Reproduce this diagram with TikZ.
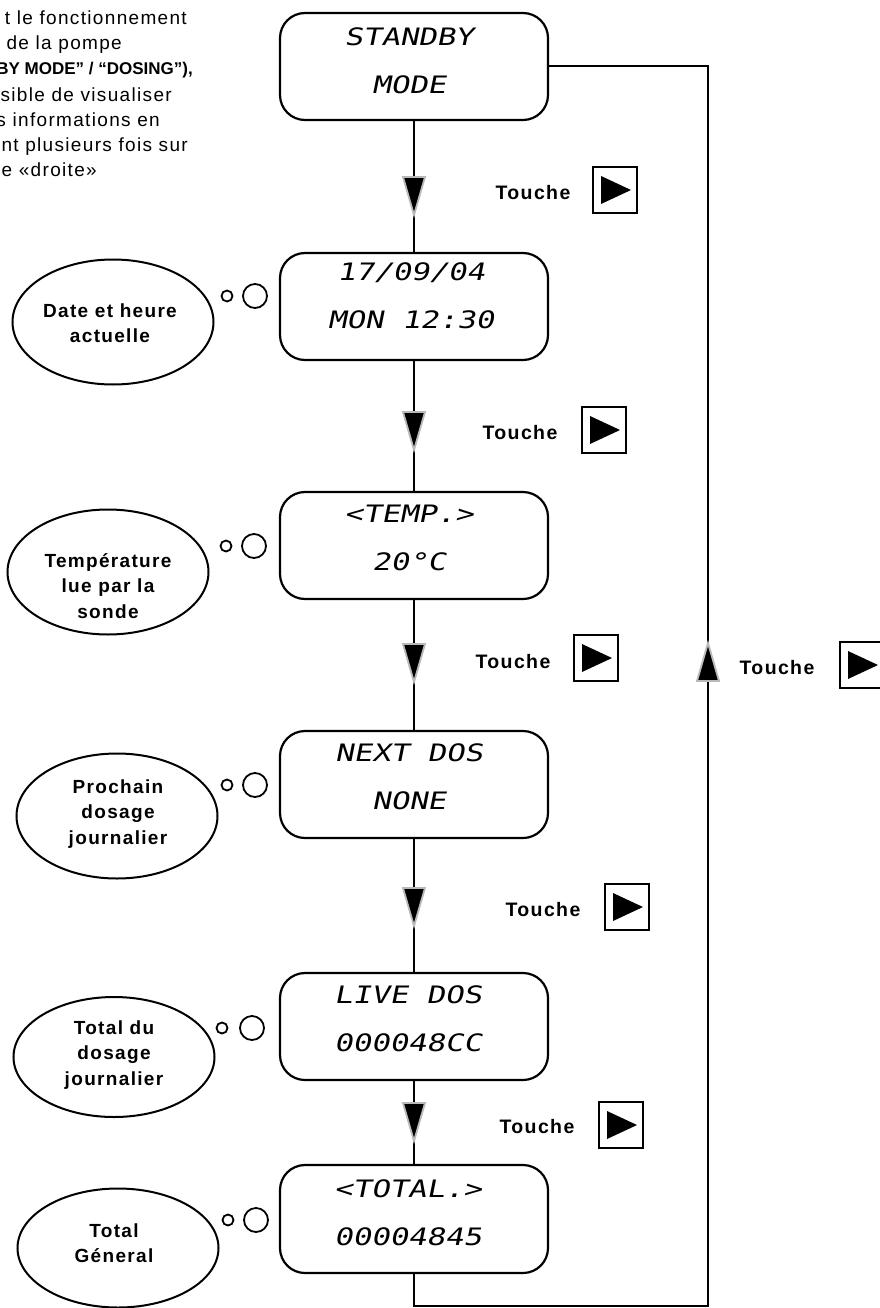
\documentclass[tikz,border=0pt]{standalone}
\usepackage{fontspec}
\setmainfont{Liberation Sans}
\newfontfamily\lcdfont{DejaVu Sans Mono}[FakeSlant=0.2,FakeStretch=1.28]
\newfontfamily\txtfont{Liberation Sans}[LetterSpace=7]
\usetikzlibrary{shapes.geometric}
\tikzset{
  lcdbox/.style={draw, line width=2.2pt, rounded corners=25pt, minimum width=268pt, minimum height=107pt, inner sep=0pt},
  lcd/.style={font=\lcdfont\fontsize{24}{48}\selectfont, align=center, inner sep=0pt},
  bubble/.style={draw, ellipse, line width=2pt, inner sep=0pt, minimum width=201pt, minimum height=125pt},
  bubbletext/.style={font=\txtfont\bfseries\fontsize{19}{25.5}\selectfont, align=center, inner sep=0pt},
  dotsmall/.style={circle, draw, line width=1.8pt, inner sep=0pt, minimum size=11pt},
  dotbig/.style={circle, draw, line width=1.8pt, inner sep=0pt, minimum size=24pt},
  touche/.style={font=\txtfont\bfseries\fontsize{19.5}{23}\selectfont, inner sep=0pt},
  keybox/.style={draw, line width=2.2pt, minimum width=44pt, minimum height=46pt, inner sep=0pt},
  flow/.style={line width=2pt},
  intro/.style={font=\txtfont\fontsize{19}{25}\selectfont, inner sep=0pt, anchor=base east},
  keypic/.pic={\node[keybox] (-box) {}; \fill (-14,-14) -- (-14,14) -- (16,0) -- cycle;},
  downarr/.pic={\draw[fill=black, draw=gray!55, line width=1.8pt, line join=miter] (-11,-19) -- (11,-19) -- (0,19) -- cycle;},
  uparr/.pic={\draw[fill=black, draw=gray!55, line width=1.8pt, line join=miter] (-11,19) -- (11,19) -- (0,-19) -- cycle;}
}
\begin{document}
\begin{tikzpicture}[x=1pt, y=-1pt]
\useasboundingbox (0,0) rectangle (880,1308);
\clip (0,0) rectangle (880,1308);

% intro text (cut at the left edge)
\node[intro] (l1) at (187,25) {t le fonctionnement};
\node[intro] (l2) at (122,50) {de la pompe};
\node[inner sep=0pt, anchor=base east, font=\bfseries\fontsize{17}{20}\selectfont] (l3) at (193,75) {BY MODE” / “DOSING”),};
\node[intro] (l4) at (172,102) {ssible de visualiser};
\node[intro] (l5) at (160,127) {s informations en};
\node[intro] (l6) at (188,152) {nt plusieurs fois sur};
\node[intro] (l7) at (97,177) {he «droite»};

% LCD boxes
\node[lcdbox] (b1) at (414,66.5) {};
\node[lcdbox] (b2) at (414,306.5) {};
\node[lcdbox] (b3) at (414,545.5) {};
\node[lcdbox] (b4) at (414,784.5) {};
\node[lcdbox] (b5) at (414,1026.5) {};
\node[lcdbox, minimum height=108pt] (b6) at (414,1219) {};

\node[lcd] (t1) at (409,60.5) {STANDBY\\MODE};
\node[lcd] (t2) at (411,296) {17/09/04\\MON 12:30};
\node[lcd] (t3) at (409,538) {<TEMP.>\\20°C};
\node[lcd] (t4) at (409,777) {NEXT DOS\\NONE};
\node[lcd] (t5) at (408,1019) {LIVE DOS\\000048CC};
\node[lcd] (t6) at (408,1212.5) {<TOTAL.>\\00004845};

% vertical flow
\draw[flow] (b1.south) -- (b2.north);
\draw[flow] (b2.south) -- (b3.north);
\draw[flow] (b3.south) -- (b4.north);
\draw[flow] (b4.south) -- (b5.north);
\draw[flow] (b5.south) -- (b6.north);

% return loop
\coordinate (c2) at (708,1306);
\draw[flow] (b6.south) |- (c2) |- (b1.east);

% arrow marks
\pic at (414,196) {downarr};
\pic at (414,431) {downarr};
\pic at (414,663) {downarr};
\pic at (414,907) {downarr};
\pic at (414,1122) {downarr};
\pic at (708,662) {uparr};

% Touche labels and keys
\node[touche] (to1) at (533,193) {Touche};
\pic (k1) at (615,190) {keypic};
\node[touche] (to2) at (520,433) {Touche};
\pic (k2) at (604,430) {keypic};
\node[touche] (to3) at (513,662) {Touche};
\pic (k3) at (596,658) {keypic};
\node[touche] (to4) at (543,910) {Touche};
\pic (k4) at (627,907) {keypic};
\node[touche] (to5) at (537,1127) {Touche};
\pic (k5) at (621,1125) {keypic};
\node[touche] (to6) at (777,668) {Touche};
\pic (k6) at (862,665) {keypic};

% thought bubbles
\node[bubble] (e1) at (113,322) {};
\node[bubbletext] (x1) at (110,323) {Date et heure\\actuelle};
\node[bubble] (e2) at (108,572) {};
\node[bubbletext] (x2) at (108,586) {Température\\lue par la\\sonde};
\node[bubble] (e3) at (117,816) {};
\node[bubbletext] (x3) at (118,814) {Prochain\\dosage\\journalier};
\node[bubble, minimum height=120pt] (e4) at (114,1057) {};
\node[bubbletext] (x4) at (114,1055) {Total du\\dosage\\journalier};
\node[bubble, minimum height=119pt] (e5) at (118,1248) {};
\node[bubbletext] (x5) at (114,1243) {Total\\Géneral};

\node[dotsmall] (s1) at (227,296) {};
\node[dotbig] (g1) at (255,296) {};
\node[dotsmall] (s2) at (226,546) {};
\node[dotbig] (g2) at (254,546) {};
\node[dotsmall] (s3) at (227,785) {};
\node[dotbig] (g3) at (255,785) {};
\node[dotsmall] (s4) at (222,1028) {};
\node[dotbig] (g4) at (252,1028) {};
\node[dotsmall] (s5) at (228,1220) {};
\node[dotbig] (g5) at (256,1220) {};
\end{tikzpicture}
\end{document}
